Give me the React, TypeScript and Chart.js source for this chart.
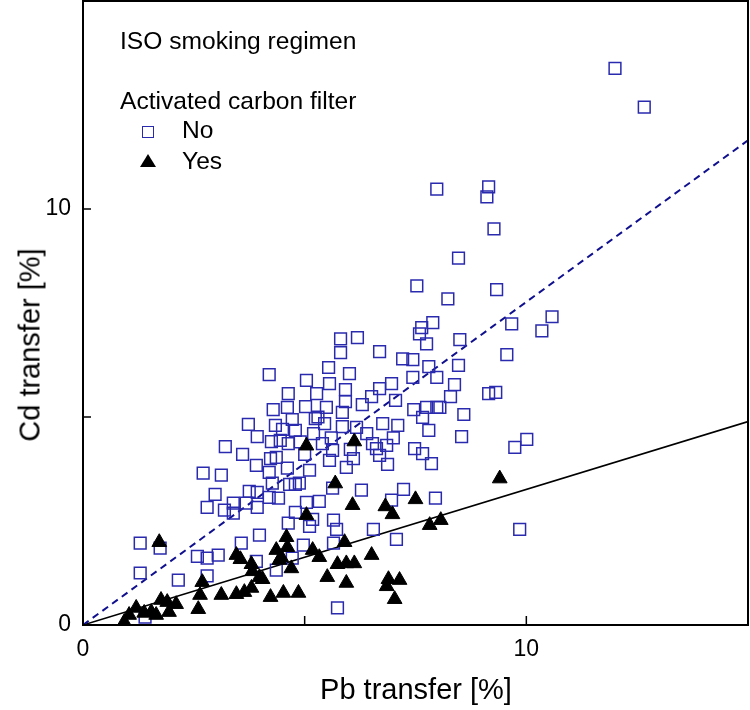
import React, { useEffect, useRef } from "react";
import { Chart, registerables } from "chart.js";

Chart.register(...registerables);

const FONT = "'Liberation Sans', Arial, Helvetica, sans-serif";

// Activated carbon filter: No (open squares)
const noPb = [
  12.0, 12.66, 7.98, 9.15, 9.11, 9.27, 8.47, 7.53, 9.33, 8.23, 10.58, 7.89, 9.67, 10.35, 7.64, 7.59, 8.5, 7.75,
  6.19, 5.81, 5.81, 6.69, 9.56, 7.21, 7.44, 8.47, 7.8, 5.54, 6.01, 4.2, 7.44, 7.98, 5.04, 8.38, 6.96, 5.56,
  6.69, 5.92, 9.15, 9.31, 4.63, 5.27, 8.29, 6.51, 7.05, 5.92, 8.05, 5.02, 5.49, 7.75, 7.98, 4.61, 4.29, 7.46,
  5.85, 8.59, 7.66, 4.72, 5.24, 5.45, 3.73, 4.34, 5.85, 6.17, 6.76, 7.1, 7.8, 4.79, 5.2, 8.54, 10.01, 9.74,
  3.93, 4.25, 4.45, 4.63, 5.4, 3.21, 5.63, 6.03, 6.53, 6.62, 6.85, 7.48, 7.66, 7.86, 4.23, 4.36, 6.69, 5.56,
  5.94, 6.87, 3.91, 5.11, 4.61, 4.2, 2.71, 3.12, 4.79, 4.66, 4.27, 4.88, 6.28, 7.23, 5.63, 2.98, 3.75, 3.93,
  6.96, 7.95, 5.04, 5.33, 2.8, 3.19, 3.39, 3.39, 3.68, 3.93, 4.2, 4.41, 4.79, 4.63, 5.18, 5.11, 5.65, 5.72,
  6.55, 9.85, 3.98, 7.07, 3.57, 1.29, 1.74, 4.97, 5.65, 2.58, 2.8, 3.05, 4.72, 3.91, 1.29, 2.15, 2.8, 4.36,
  5.74, 1.4, 5.3, 5.6, 4.9, 6.3, 6.4, 7.0, 4.5, 5.0, 6.1, 3.6,
];
const noCd = [
  13.38, 12.45, 10.48, 10.53, 10.29, 9.52, 8.82, 8.15, 8.06, 7.84, 7.41, 7.27, 7.24, 7.07, 7.15, 7.0, 6.86, 6.76,
  6.91, 6.88, 6.55, 6.57, 6.5, 6.4, 6.38, 6.24, 6.21, 6.19, 6.04, 6.02, 5.95, 5.95, 5.88, 5.78, 5.8, 5.8,
  5.68, 5.66, 5.56, 5.59, 5.56, 5.56, 5.49, 5.49, 5.4, 5.37, 5.23, 5.25, 5.23, 5.23, 5.23, 5.23, 5.18, 5.18,
  5.11, 5.06, 4.99, 4.94, 4.96, 4.84, 4.82, 4.8, 4.77, 4.75, 4.84, 4.8, 4.68, 4.68, 4.6, 4.53, 4.46, 4.27,
  4.53, 4.41, 4.44, 4.36, 4.36, 4.29, 4.2, 4.22, 4.36, 4.24, 4.32, 4.24, 4.12, 3.88, 4.0, 4.03, 4.08, 3.96,
  3.79, 3.86, 3.84, 3.72, 3.77, 3.67, 3.65, 3.6, 3.38, 3.38, 3.41, 3.41, 3.24, 3.26, 3.29, 3.14, 3.21, 3.19,
  3.0, 3.05, 2.95, 2.97, 2.83, 2.76, 2.93, 2.69, 2.93, 2.83, 3.07, 3.05, 2.71, 2.45, 2.54, 2.37, 2.52, 2.3,
  2.3, 2.3, 2.16, 2.06, 1.97, 1.97, 1.85, 1.92, 1.97, 1.65, 1.61, 1.68, 1.61, 1.53, 1.25, 1.08, 1.18, 1.32,
  0.41, 0.19, 5.0, 4.5, 4.4, 5.3, 4.6, 4.5, 4.7, 4.1, 4.0, 4.1,
];

// Activated carbon filter: Yes (filled triangles)
const yesPb = [
  9.4, 5.04, 6.12, 5.69, 6.08, 6.82, 6.98, 7.5, 5.04, 7.82, 8.07, 4.59, 4.61, 4.36, 4.47, 4.7, 4.43, 5.18,
  5.33, 5.9, 6.51, 5.74, 5.94, 6.12, 5.51, 5.94, 6.89, 7.14, 6.85, 7.03, 4.23, 4.52, 4.86, 1.72, 3.46, 3.55,
  3.8, 3.82, 3.98, 4.05, 3.46, 3.64, 3.8, 2.69, 2.64, 2.6, 3.12, 1.76, 1.9, 2.1, 1.94, 1.38, 1.54, 1.65,
  1.2, 1.04, 0.93,
];
const yesCd = [
  3.52, 4.31, 4.41, 3.4, 2.88, 2.85, 2.66, 3.02, 2.64, 2.4, 2.52, 2.11, 1.87, 1.8, 1.63, 1.36, 1.56, 1.8,
  1.63, 1.99, 1.68, 1.46, 1.48, 1.48, 1.15, 1.01, 1.1, 1.08, 0.93, 0.62, 0.67, 0.77, 0.77, 1.99, 1.68, 1.58,
  1.46, 1.29, 1.15, 1.1, 0.74, 0.79, 0.89, 1.03, 0.72, 0.38, 0.72, 0.6, 0.55, 0.5, 0.31, 0.29, 0.31, 0.24,
  0.41, 0.24, 0.07,
];

// Fitted lines (end points)
const fitNoPb = [0, 15];
const fitNoCd = [0, 11.65];
const fitYesPb = [0, 15];
const fitYesCd = [0, 4.89];

const axisMin = 0;
const axisMax = 15;
const tickStep = 5;
const labelledTicks = [0, 10];
const tickMarks = [5, 10];

const legendTitle = "ISO smoking regimen";
const legendHeader = "Activated carbon filter";
const seriesNames = ["No", "Yes"];
const xTitle = "Pb transfer [%]";
const yTitle = "Cd transfer [%]";

const BLUE = "#2a2aae";
const NAVY = "#10108f";

const toPoints = (xs: number[], ys: number[]) => xs.map((x, i) => ({ x, y: ys[i] }));

const framePlugin = {
  id: "frameAndTicks",
  afterDraw(chart: any) {
    const { ctx, chartArea, scales } = chart;
    const { left, top, right, bottom } = chartArea;
    ctx.save();
    ctx.strokeStyle = "#000";
    ctx.lineWidth = 2;
    ctx.strokeRect(left, top, right - left, bottom - top);
    ctx.lineWidth = 1.5;
    ctx.beginPath();
    for (const v of tickMarks) {
      const px = scales.x.getPixelForValue(v);
      ctx.moveTo(px, bottom);
      ctx.lineTo(px, bottom - 9);
      const py = scales.y.getPixelForValue(v);
      ctx.moveTo(left, py);
      ctx.lineTo(left + 8, py);
    }
    ctx.stroke();
    ctx.restore();
  },
};

const tickFont = { family: FONT, size: 23 };

const zeroPadding = (s: any) => {
  s.paddingTop = 0;
  s.paddingBottom = 0;
  s.paddingLeft = 0;
  s.paddingRight = 0;
};

export default function App() {
  const ref = useRef<HTMLCanvasElement>(null);

  useEffect(() => {
    if (!ref.current) return;
    const chart = new Chart(ref.current, {
      type: "scatter",
      data: {
        datasets: [
          {
            label: seriesNames[1],
            data: toPoints(yesPb, yesCd),
            pointStyle: "triangle",
            pointRadius: 8.5,
            backgroundColor: "#000",
            borderColor: "#000",
            borderWidth: 1,
          },
          {
            label: seriesNames[0],
            data: toPoints(noPb, noCd),
            pointStyle: "rect",
            pointRadius: 8.3,
            backgroundColor: "rgba(0,0,0,0)",
            borderColor: BLUE,
            borderWidth: 1.5,
          },
          {
            label: "fit No",
            data: toPoints(fitNoPb, fitNoCd),
            showLine: true,
            pointRadius: 0,
            borderColor: NAVY,
            borderWidth: 2,
            borderDash: [7, 5],
          },
          {
            label: "fit Yes",
            data: toPoints(fitYesPb, fitYesCd),
            showLine: true,
            pointRadius: 0,
            borderColor: "#000",
            borderWidth: 1.6,
          },
        ],
      } as any,
      options: {
        animation: false,
        responsive: false,
        maintainAspectRatio: false,
        events: [],
        layout: { autoPadding: false, padding: { top: 1, right: 2, left: 0, bottom: 0 } },
        plugins: {
          legend: { display: false },
          tooltip: { enabled: false },
          title: { display: false },
        },
        scales: {
          x: {
            type: "linear",
            min: axisMin,
            max: axisMax,
            grid: { display: false, drawTicks: false },
            border: { display: false },
            ticks: {
              stepSize: tickStep,
              autoSkip: false,
              maxRotation: 0,
              padding: 11,
              color: "#000",
              font: tickFont,
              callback: (v: any) => (labelledTicks.includes(Number(v)) ? String(v) : ""),
            },
            afterFit: (s: any) => {
              s.height = 85;
              zeroPadding(s);
            },
          },
          y: {
            type: "linear",
            min: axisMin,
            max: axisMax,
            grid: { display: false, drawTicks: false },
            border: { display: false },
            ticks: {
              stepSize: tickStep,
              autoSkip: false,
              padding: 12,
              color: "#000",
              font: tickFont,
              callback: (v: any) => (labelledTicks.includes(Number(v)) ? String(v) : ""),
            },
            afterFit: (s: any) => {
              s.width = 83;
              zeroPadding(s);
            },
          },
        },
      } as any,
      plugins: [framePlugin],
    });
    return () => chart.destroy();
  }, []);

  const textAt = (left: number, top: number, size: number): React.CSSProperties => ({
    position: "absolute",
    left,
    top,
    fontSize: size,
    lineHeight: `${size}px`,
    whiteSpace: "nowrap",
    color: "#000",
    fontFamily: FONT,
  });

  return (
    <div
      style={{
        position: "absolute",
        left: 0,
        top: 0,
        width: 750,
        height: 710,
        background: "#fff",
        overflow: "hidden",
        fontFamily: FONT,
      }}
    >
      <canvas ref={ref} width={750} height={710} style={{ display: "block", width: 750, height: 710 }} />
      <div style={textAt(120, 29.3, 24.6)}>{legendTitle}</div>
      <div style={textAt(120, 89.3, 24.6)}>{legendHeader}</div>
      <div
        style={{
          position: "absolute",
          left: 141.5,
          top: 125.5,
          width: 10,
          height: 10,
          border: `1.5px solid ${BLUE}`,
        }}
      />
      <div style={textAt(182, 118.3, 24.6)}>{seriesNames[0]}</div>
      <div
        style={{
          position: "absolute",
          left: 139.5,
          top: 154,
          width: 0,
          height: 0,
          borderLeft: "8.5px solid transparent",
          borderRight: "8.5px solid transparent",
          borderBottom: "13px solid #000",
        }}
      />
      <div style={textAt(182, 149.3, 24.6)}>{seriesNames[1]}</div>
      <div
        style={{
          ...textAt(416, 689, 29),
          transform: "translate(-50%, -50%)",
        }}
      >
        {xTitle}
      </div>
      <div
        style={{
          ...textAt(29.5, 345, 29),
          transform: "translate(-50%, -50%) rotate(-90deg)",
        }}
      >
        {yTitle}
      </div>
    </div>
  );
}
